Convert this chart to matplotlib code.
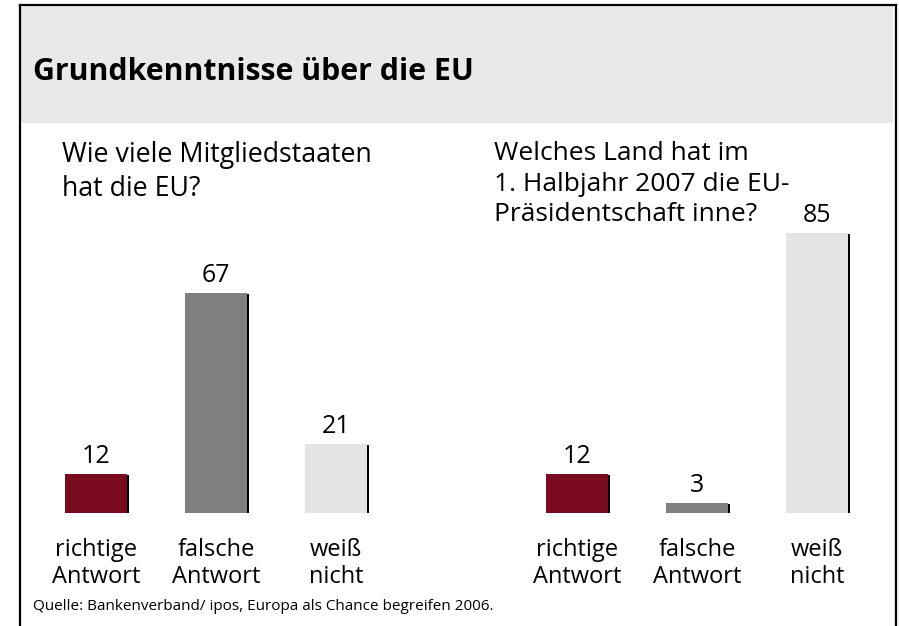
import matplotlib.pyplot as plt
import matplotlib.patheffects as pe
from matplotlib.patches import Rectangle
from matplotlib.lines import Line2D

plt.rcParams['font.family'] = ['Open Sans', 'DejaVu Sans']

title = 'Grundkenntnisse über die EU'
question_left = 'Wie viele Mitgliedstaaten\nhat die EU?'
question_right = 'Welches Land hat im\n1. Halbjahr 2007 die EU-\nPräsidentschaft inne?'
categories = ['richtige\nAntwort', 'falsche\nAntwort', 'weiß\nnicht']
values_left = [12, 67, 21]
values_right = [12, 3, 85]
colors = ['#7a0a1e', '#808080', '#e4e4e4']
source = 'Quelle: Bankenverband/ ipos, Europa als Chance begreifen 2006.'

W, H = 899, 626
fig = plt.figure(figsize=(W / 100, H / 100), dpi=100)


def fx(px):
    return px / W


def fy(py):
    return 1 - py / H


# header band and frame
fig.patches.append(Rectangle((fx(20), fy(123)), fx(893) - fx(20), fy(5) - fy(123),
                             transform=fig.transFigure, facecolor='#e9e9e9', edgecolor='none'))
for xs, ys in [([20, 20], [5, 626]), ([20, 896], [5, 5]), ([896, 896], [5, 626])]:
    fig.lines.append(Line2D([fx(x) for x in xs], [fy(y) for y in ys], transform=fig.transFigure,
                            color='black', lw=1.6))

fig.text(fx(33), fy(72), title, fontsize=21.8, fontweight='bold', va='center', ha='left')
fig.text(fx(62), fy(141), question_left, fontsize=19.3, va='top', ha='left', linespacing=1.27)
fig.text(fx(494), fy(141), question_right, fontsize=19, va='top', ha='left', linespacing=1.3)
fig.text(fx(33), fy(607), source, fontsize=11, va='center', ha='left')

shadow = [pe.SimplePatchShadow(offset=(1.6, -0.8), shadow_rgbFace='black', alpha=1), pe.Normal()]

for left_px, vals in [(36, values_left), (517, values_right)]:
    ax = fig.add_axes([fx(left_px), fy(513), 360 / W, 329 / H])
    ax.set_xlim(-0.5, 2.5)
    ax.set_ylim(0, 100)
    ax.axis('off')
    x = range(len(vals))
    bars = ax.bar(x, vals, width=0.51, color=colors)
    for b in bars:
        b.set_path_effects(shadow)
    for i, v in enumerate(vals):
        ax.annotate(str(v), (i, v), xytext=(0, 5), textcoords='offset pixels',
                    ha='center', va='bottom', fontsize=18)
        ax.annotate(categories[i], (i, 0), xytext=(0, -25), textcoords='offset pixels',
                    ha='center', va='top', fontsize=17, linespacing=1.15)

fig.savefig('out.png', dpi=100)
